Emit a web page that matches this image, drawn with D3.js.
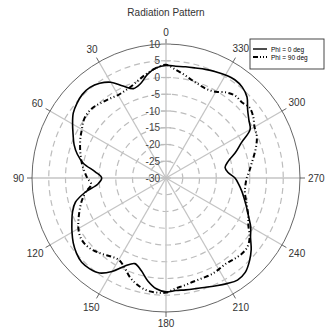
<!DOCTYPE html>
<html>
<head>
<meta charset="utf-8">
<script src="https://cdn.jsdelivr.net/npm/d3@7.9.0/dist/d3.min.js"></script>
<style>
  body { margin: 0; background: #fff; }
  svg { display: block; font-family: Arial, "Liberation Sans", sans-serif; }
</style>
</head>
<body>
<svg id="chart" width="325" height="332"></svg>
<script>
// angle of each sample, degrees counter-clockwise from the top
const angles = [0,5,10,15,20,25,30,35,40,45,50,55,60,65,70,75,80,85,
  90,95,100,105,110,115,120,125,130,135,140,145,150,155,160,165,170,175,
  180,185,190,195,200,205,210,215,220,225,230,235,240,245,250,255,260,265,
  270,275,280,285,290,295,300,305,310,315,320,325,330,335,340,345,350,355];

// gain in dB
const phi0 = [3.6,3.0,1.5,-0.8,-1.6,0.3,3.0,4.5,5.3,5.3,4.7,3.8,2.2,0.6,-0.8,-2.6,-5.0,-8.8,
  -10.8,-9.6,-5.5,-2.0,-0.3,1.0,2.4,3.8,4.9,5.6,5.4,4.6,2.2,-1.0,-2.8,-1.4,1.2,3.2,
  4.0,3.7,3.9,4.2,4.7,5.5,6.4,7.2,6.8,5.2,3.2,0.8,-0.8,-2.8,-4.4,-5.8,-7.0,-8.2,
  -9.4,-11.4,-12.1,-10.8,-8.0,-5.2,-1.0,0.2,1.8,4.2,5.4,5.8,5.5,5.0,4.5,4.0,3.7,3.5];

const phi90 = [3.8,3.0,1.8,0.5,-0.6,-1.2,-1.4,-1.0,-0.5,0.2,0.4,0.0,-1.0,-1.8,-2.7,-3.6,-4.5,-5.5,
  -6.5,-7.6,-5.6,-4.0,-2.6,-1.2,0.2,1.1,1.2,0.6,-0.4,-1.4,-1.8,-0.6,1.5,3.0,4.0,4.3,
  4.2,3.1,2.5,2.0,1.8,1.8,1.5,1.2,1.6,2.0,1.8,0.5,-1.6,-2.9,-4.2,-5.3,-6.1,-6.2,
  -5.9,-5.0,-4.0,-2.7,-1.3,-0.1,0.5,1.8,2.6,2.0,2.1,1.2,-0.3,-0.8,-0.5,0.2,1.3,2.5];

const ringTicks = [-30,-25,-20,-15,-10,-5,0,5,10];
const angleTicks = [0,30,60,90,120,150,180,210,240,270,300,330];
const seriesNames = ["Phi = 0 deg", "Phi = 90 deg"];

const cx = 166, cy = 178, R = 134;
const svg = d3.select("#chart");

svg.append("text")
  .attr("x", cx).attr("y", 16)
  .attr("text-anchor", "middle")
  .attr("font-size", 10).attr("fill", "#333")
  .text("Radiation Pattern");

const rScale = d3.scaleLinear().domain([-30, 10]).range([0, R]);
// counter-clockwise, zero at the top
const aScale = d3.scaleLinear().domain([0, 360]).range([0, -2 * Math.PI]);

const g = svg.append("g").attr("transform", `translate(${cx},${cy})`);

// dashed rings
g.selectAll(".ring")
  .data(ringTicks.filter(v => v > -30 && v < 10))
  .join("circle")
  .attr("r", d => rScale(d))
  .attr("fill", "none")
  .attr("stroke", "#bdbdbd")
  .attr("stroke-width", 1.2)
  .attr("stroke-dasharray", "6 4");

// spokes
g.selectAll(".spoke")
  .data(angleTicks)
  .join("line")
  .attr("x2", d => R * Math.sin(aScale(d)))
  .attr("y2", d => -R * Math.cos(aScale(d)))
  .attr("stroke", "#c4c4c4")
  .attr("stroke-width", 1.3);

// outer circle and its ticks
g.append("circle").attr("r", R)
  .attr("fill", "none").attr("stroke", "#555").attr("stroke-width", 0.9);

g.selectAll(".otick")
  .data(angleTicks)
  .join("line")
  .attr("x1", d => R * Math.sin(aScale(d)))
  .attr("y1", d => -R * Math.cos(aScale(d)))
  .attr("x2", d => (R + 5) * Math.sin(aScale(d)))
  .attr("y2", d => -(R + 5) * Math.cos(aScale(d)))
  .attr("stroke", "#555").attr("stroke-width", 0.9);

// angle labels, pushed out by their own size
const alabels = g.selectAll(".alabel")
  .data(angleTicks)
  .join("text")
  .attr("font-size", 10).attr("fill", "#333")
  .attr("text-anchor", "middle")
  .attr("dominant-baseline", "central")
  .text(d => d);

alabels.each(function(d) {
  const hw = this.getComputedTextLength() / 2, hh = 3.8;
  const a = aScale(d);
  const rr = R + 8 + hw * Math.abs(Math.sin(a)) + hh * Math.abs(Math.cos(a));
  d3.select(this).attr("x", rr * Math.sin(a)).attr("y", -rr * Math.cos(a));
});

// radial ticks across the 0 deg spoke
g.selectAll(".rtick")
  .data(ringTicks)
  .join("line")
  .attr("x1", -5).attr("x2", 5)
  .attr("y1", d => -rScale(d)).attr("y2", d => -rScale(d))
  .attr("stroke", "#bdbdbd").attr("stroke-width", 1.2);

g.selectAll(".rlabel")
  .data(ringTicks)
  .join("text")
  .attr("x", -6)
  .attr("y", d => -rScale(d))
  .attr("text-anchor", "end")
  .attr("dominant-baseline", "central")
  .attr("font-size", 10).attr("fill", "#444")
  .text(d => d);

// curves
const radial = d3.lineRadial()
  .angle((d, i) => aScale(angles[i]))
  .radius(d => rScale(d))
  .curve(d3.curveCatmullRomClosed.alpha(0.5));

g.append("path")
  .attr("d", radial(phi0))
  .attr("fill", "none").attr("stroke", "#000").attr("stroke-width", 1.6);

g.append("path")
  .attr("d", radial(phi90))
  .attr("fill", "none").attr("stroke", "#000").attr("stroke-width", 2)
  .attr("stroke-dasharray", "5 2.5 1 2.5 1 2.5");

// legend
const lg = svg.append("g").attr("transform", "translate(250,39)");
lg.append("rect").attr("width", 74).attr("height", 30)
  .attr("fill", "#fff").attr("stroke", "#333").attr("stroke-width", 0.9);

seriesNames.forEach((name, i) => {
  const y = 10 + i * 8;
  lg.append("line")
    .attr("x1", 3).attr("x2", 17).attr("y1", y).attr("y2", y)
    .attr("stroke", "#000")
    .attr("stroke-width", i ? 2 : 1.4)
    .attr("stroke-dasharray", i ? "5 2 1 2 1 2" : null);
  lg.append("text")
    .attr("x", 21).attr("y", y)
    .attr("dominant-baseline", "central")
    .attr("font-size", 6.5).attr("fill", "#000")
    .text(name);
});
</script>
</body>
</html>
